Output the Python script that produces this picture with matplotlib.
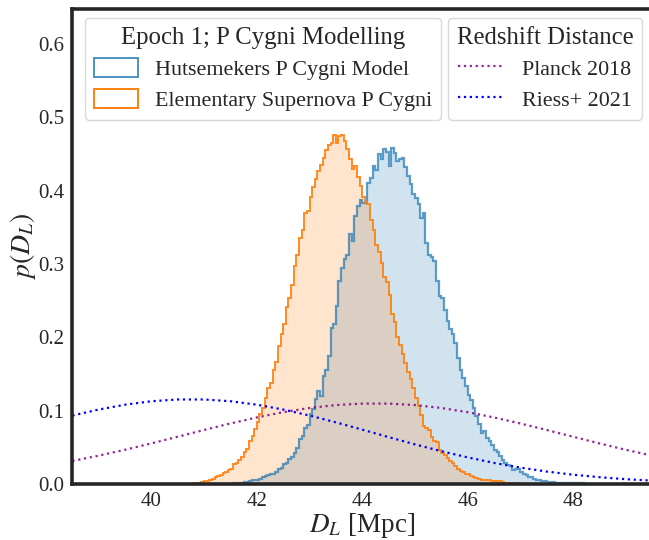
import numpy as np
import matplotlib
matplotlib.use("Agg")
import matplotlib.pyplot as plt
from matplotlib.patches import Patch
from matplotlib.lines import Line2D

# ---------------- data ----------------
bin_width = 0.05
hutse_start = 41.55
hutse_density = [
    0.001, 0.001, 0.002, 0.002, 0.003, 0.003, 0.004, 0.005, 0.005, 0.006,
    0.007, 0.009, 0.011, 0.012, 0.013, 0.014, 0.016, 0.020, 0.022, 0.027,
    0.029, 0.034, 0.037, 0.042, 0.049, 0.061, 0.065, 0.077, 0.081, 0.095,
    0.102, 0.116, 0.127, 0.120, 0.147, 0.156, 0.175, 0.213, 0.218, 0.243,
    0.277, 0.295, 0.307, 0.313, 0.341, 0.332, 0.366, 0.379, 0.388, 0.383,
    0.384, 0.411, 0.418, 0.434, 0.428, 0.450, 0.444, 0.457, 0.453, 0.434,
    0.459, 0.452, 0.441, 0.443, 0.445, 0.433, 0.420, 0.409, 0.395, 0.390,
    0.382, 0.363, 0.370, 0.329, 0.313, 0.309, 0.304, 0.277, 0.256, 0.254,
    0.238, 0.222, 0.212, 0.204, 0.192, 0.172, 0.155, 0.145, 0.134, 0.122,
    0.114, 0.104, 0.093, 0.082, 0.070, 0.072, 0.063, 0.059, 0.053, 0.046,
    0.043, 0.038, 0.033, 0.028, 0.026, 0.024, 0.019, 0.021, 0.021, 0.017,
    0.014, 0.012, 0.010, 0.009, 0.007, 0.005, 0.005, 0.004, 0.004, 0.003,
    0.003, 0.003, 0.002, 0.002, 0.002, 0.002, 0.001, 0.001, 0.001, 0.001,
    0.001, 0.001, 0.001,
]
elem_start = 40.80
elem_density = [
    0.001, 0.001, 0.002, 0.003, 0.004, 0.004, 0.006, 0.007, 0.009, 0.011,
    0.012, 0.015, 0.016, 0.019, 0.020, 0.027, 0.028, 0.033, 0.037, 0.043,
    0.048, 0.058, 0.065, 0.075, 0.084, 0.095, 0.104, 0.118, 0.131, 0.138,
    0.155, 0.166, 0.188, 0.205, 0.218, 0.241, 0.254, 0.272, 0.297, 0.312,
    0.336, 0.347, 0.370, 0.373, 0.392, 0.405, 0.416, 0.427, 0.435, 0.445,
    0.455, 0.463, 0.465, 0.476, 0.465, 0.475, 0.476, 0.468, 0.457, 0.444,
    0.430, 0.434, 0.419, 0.406, 0.392, 0.385, 0.382, 0.360, 0.347, 0.326,
    0.316, 0.302, 0.283, 0.275, 0.258, 0.232, 0.221, 0.200, 0.190, 0.178,
    0.165, 0.153, 0.143, 0.131, 0.118, 0.106, 0.094, 0.079, 0.076, 0.073,
    0.064, 0.059, 0.057, 0.046, 0.042, 0.039, 0.035, 0.031, 0.028, 0.025,
    0.021, 0.018, 0.016, 0.014, 0.013, 0.011, 0.010, 0.008, 0.007, 0.006,
    0.006, 0.005, 0.005, 0.004, 0.004, 0.003, 0.004, 0.003, 0.002, 0.002,
    0.001, 0.001, 0.001, 0.001,
]

curve_x = [38.5, 39.0, 39.5, 40.0, 40.5, 41.0, 41.5, 42.0, 42.5, 43.0, 43.5, 44.0,
           44.5, 45.0, 45.5, 46.0, 46.5, 47.0, 47.5, 48.0, 48.5, 49.0, 49.5]
planck_p = [0.0314, 0.0387, 0.0467, 0.0554, 0.0645, 0.0737, 0.0826, 0.0908,
            0.0980, 0.1037, 0.1077, 0.1097, 0.1097, 0.1077, 0.1037, 0.0980,
            0.0908, 0.0826, 0.0737, 0.0645, 0.0554, 0.0467, 0.0387]
riess_p = [0.0934, 0.1016, 0.1082, 0.1129, 0.1153, 0.1153, 0.1129, 0.1082,
           0.1016, 0.0934, 0.0841, 0.0742, 0.0640, 0.0541, 0.0448, 0.0363,
           0.0288, 0.0224, 0.0170, 0.0127, 0.0093, 0.0066, 0.0046]

x_ticks = [40, 42, 44, 46, 48]
y_ticks = [0.0, 0.1, 0.2, 0.3, 0.4, 0.5, 0.6]

# ---------------- style ----------------
plt.rcParams["font.family"] = ["Liberation Serif", "DejaVu Serif"]
plt.rcParams["mathtext.fontset"] = "stix"

BLUE = "#1f77b4"
ORANGE = "#ff7f0e"
SPINE = "#262626"

fig = plt.figure(figsize=(6.49, 5.40), dpi=100)
ax = fig.add_axes([72.4 / 649, 1 - 484 / 540, (652 - 72.4) / 649, (484 - 9) / 540])

h_edges = hutse_start + bin_width * np.arange(len(hutse_density) + 1)
e_edges = elem_start + bin_width * np.arange(len(elem_density) + 1)

ax.stairs(hutse_density, h_edges, fill=True, color=BLUE, alpha=0.2, lw=0)
ax.stairs(elem_density, e_edges, fill=True, color=ORANGE, alpha=0.2, lw=0)
ax.stairs(hutse_density, h_edges, color=BLUE, alpha=0.7, lw=1.6)
ax.stairs(elem_density, e_edges, color=ORANGE, alpha=0.9, lw=1.4)

ax.plot(curve_x, planck_p, ls=":", color="purple", lw=1.6, alpha=0.85)
ax.plot(curve_x, riess_p, ls=":", color="blue", lw=1.6)

ax.set_xlim(38.5, 49.5)
ax.set_ylim(0, 0.648)
ax.set_xticks(x_ticks)
ax.set_yticks(y_ticks)
ax.set_yticklabels([f"{v:.1f}" for v in y_ticks])
ax.tick_params(axis="both", length=0, labelsize=15, pad=6, colors=SPINE)
for s in ax.spines.values():
    s.set_linewidth(2.6)
    s.set_color(SPINE)

ax.set_xlabel(r"$D_L$ [Mpc]", fontsize=19.5, color=SPINE, labelpad=0)
ax.set_ylabel(r"$p(D_L)$", fontsize=20, color=SPINE, labelpad=0)

common = dict(loc="upper left", bbox_transform=fig.transFigure, borderaxespad=0,
              fontsize=15.8, title_fontsize=17.8, labelspacing=0.4,
              handlelength=2.0, handleheight=1.0, frameon=True, fancybox=True,
              edgecolor="0.85", framealpha=1.0, borderpad=0.4)

h1 = [Patch(facecolor="none", edgecolor=BLUE, alpha=0.8, lw=1.4),
      Patch(facecolor="none", edgecolor=ORANGE, lw=1.4)]
leg1 = ax.legend(h1, ["Hutsemekers P Cygni Model", "Elementary Supernova P Cygni"],
                 title="Epoch 1; P Cygni Modelling",
                 bbox_to_anchor=(85 / 649, 1 - 18 / 540), handletextpad=0.8, **common)
for t in leg1.get_texts():
    t.set_color(SPINE)
leg1.get_title().set_color(SPINE)
ax.add_artist(leg1)

h2 = [Line2D([], [], ls=":", color="purple", lw=1.6, alpha=0.85),
      Line2D([], [], ls=":", color="blue", lw=1.6)]
leg2 = ax.legend(h2, ["Planck 2018", "Riess+ 2021"],
                 title="Redshift Distance",
                 bbox_to_anchor=(448 / 649, 1 - 18 / 540), handletextpad=0.9, **common)
for t in leg2.get_texts():
    t.set_color(SPINE)
leg2.get_title().set_color(SPINE)

fig.savefig("out.png", dpi=100)
